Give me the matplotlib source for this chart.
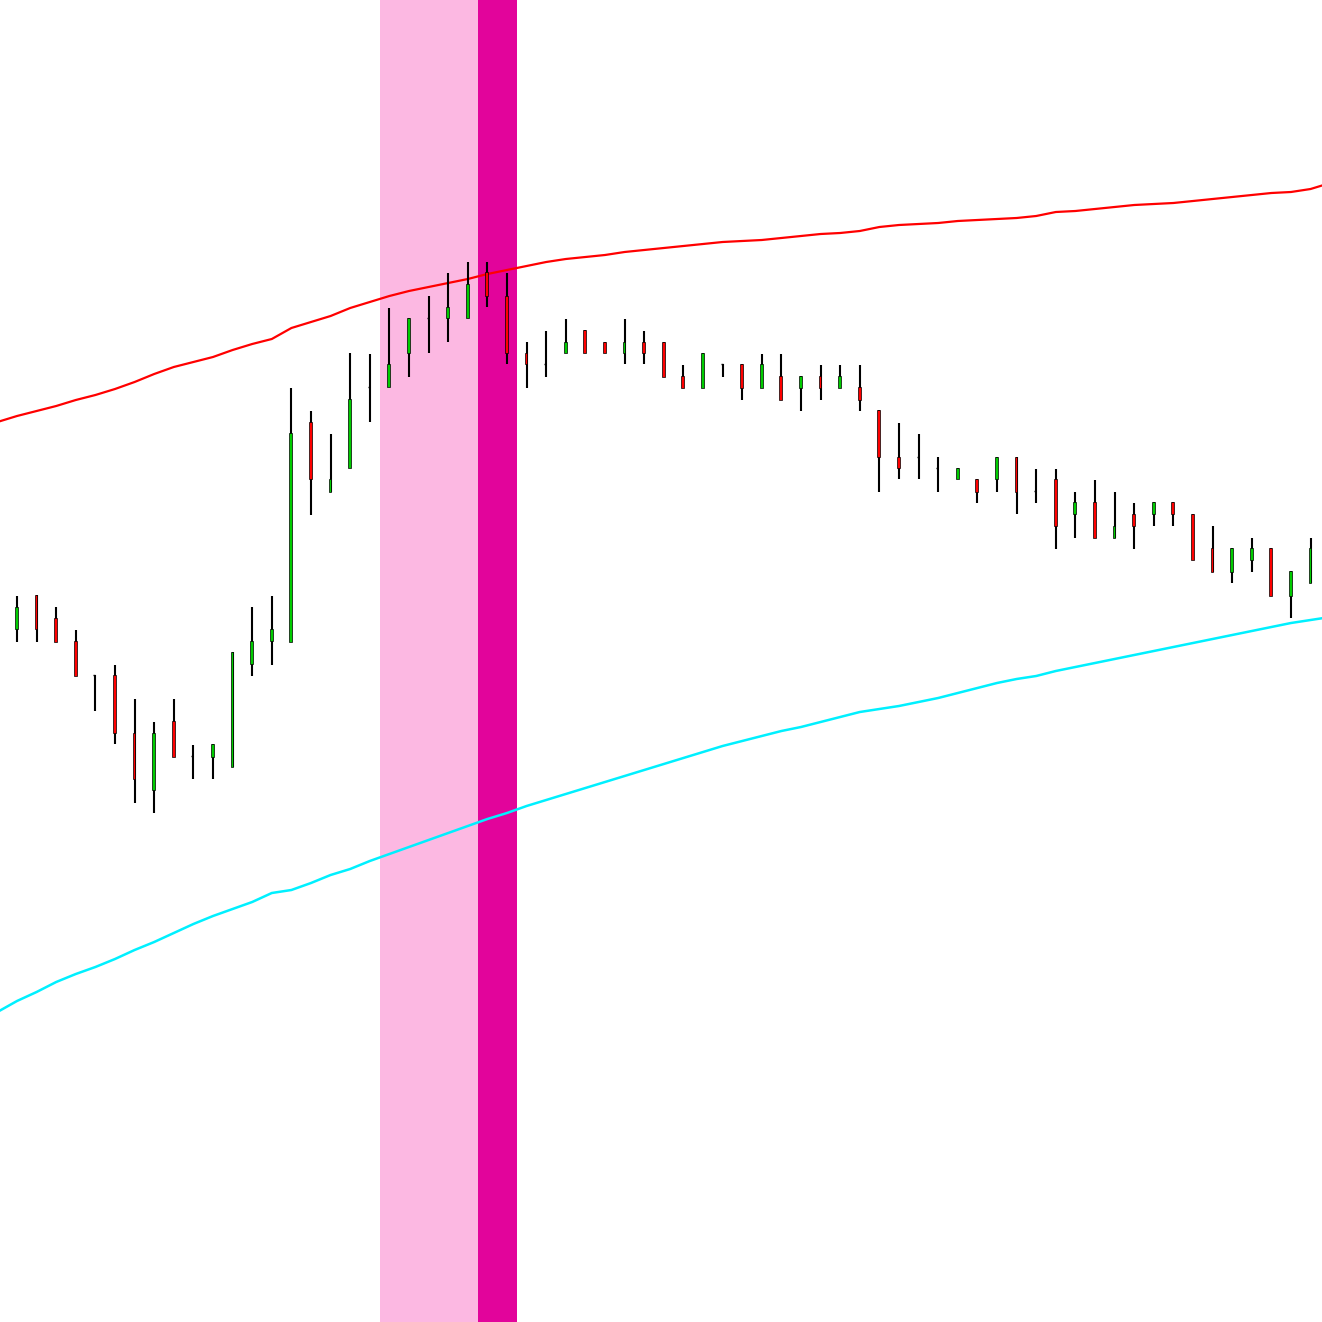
import numpy as np
import matplotlib
matplotlib.use("Agg")
import matplotlib.pyplot as plt

# OHLC per bar (price units)
opens = [693, 727, 704, 681, 647, 647, 589, 532, 601, 566, 565, 555, 658, 681, 680, 900, 830, 854, 935, 935,
         969, 1004, 1004, 1004, 1050, 1026, 969, 958, 969, 992, 980, 969, 980, 980, 946, 934, 958, 958, 934, 946,
         934, 946, 934, 935, 912, 865, 865, 854, 843, 843, 843, 865, 831, 843, 808, 820, 784, 808, 808, 820,
         808, 774, 750, 762, 774, 726, 739]
highs = [726, 727, 715, 692, 647, 657, 623, 600, 623, 577, 578, 670, 715, 726, 934, 911, 888, 969, 968, 1014,
         1004, 1026, 1049, 1060, 1060, 1049, 980, 991, 1003, 992, 980, 1003, 991, 980, 957, 969, 958, 958, 968, 968,
         946, 957, 957, 957, 912, 899, 888, 865, 854, 843, 865, 865, 853, 853, 830, 842, 830, 819, 820, 820,
         808, 796, 774, 784, 774, 751, 784]
lows = [680, 680, 680, 646, 611, 578, 519, 509, 565, 543, 543, 555, 646, 657, 680, 807, 830, 854, 900, 935,
        945, 969, 980, 1004, 1015, 958, 934, 945, 969, 969, 969, 958, 958, 945, 934, 934, 945, 922, 934, 922,
        911, 922, 934, 911, 830, 843, 843, 830, 843, 819, 830, 808, 819, 773, 784, 784, 784, 773, 796, 796,
        762, 750, 739, 750, 726, 704, 739]
closes = [715, 693, 680, 646, 647, 589, 543, 589, 565, 566, 578, 670, 681, 693, 889, 843, 843, 923, 935, 958,
          1004, 1004, 1015, 1038, 1026, 969, 958, 958, 980, 969, 969, 980, 969, 945, 934, 969, 958, 934, 958, 922,
          946, 934, 946, 922, 865, 854, 865, 854, 854, 830, 865, 830, 831, 796, 820, 784, 796, 796, 820, 808,
          762, 750, 774, 774, 726, 751, 774]

# envelope lines, one value per bar from one bar before the first to one after the last
upper_band = [900, 906, 911, 916, 922, 927, 933, 940, 948, 955, 960, 965, 972, 978, 983, 994, 1000, 1006, 1014,
              1020, 1026, 1031, 1035, 1039, 1043, 1048, 1052, 1056, 1060, 1063, 1065, 1067, 1070, 1072, 1074,
              1076, 1078, 1080, 1081, 1082, 1084, 1086, 1088, 1089, 1091, 1095, 1097, 1098, 1099, 1101, 1102,
              1103, 1104, 1106, 1110, 1111, 1113, 1115, 1117, 1118, 1119, 1121, 1123, 1125, 1127, 1129, 1130,
              1133, 1139]
lower_band = [310, 321, 330, 340, 348, 355, 363, 372, 380, 389, 398, 406, 413, 420, 429, 432, 439, 447, 453,
              461, 468, 475, 482, 489, 496, 503, 509, 516, 522, 528, 534, 540, 546, 552, 558, 564, 570, 576,
              581, 586, 591, 595, 600, 605, 610, 613, 616, 620, 624, 629, 634, 639, 643, 646, 651, 655, 659,
              663, 667, 671, 675, 679, 683, 687, 691, 695, 699, 702, 705]

# highlighted bar ranges (first bar, last bar)
light_zone = (19, 23)
dark_zone = (24, 25)

n = len(opens)
x = np.arange(n)
x_band = np.arange(-1, n + 1)

fig = plt.figure(figsize=(13.22, 13.22), dpi=100)
ax = fig.add_axes([0, 0, 1, 1])

ax.axvspan(light_zone[0] - 0.5, light_zone[1] + 0.5, color='#fcb8e2', lw=0, zorder=0)
ax.axvspan(dark_zone[0] - 0.5, dark_zone[1] + 0.5, color='#e2049b', lw=0, zorder=0)

ax.plot(x_band, upper_band, color='#ff0000', lw=1.6, zorder=2)
ax.plot(x_band, lower_band, color='#00f0ff', lw=1.8, zorder=2)

body_w = 0.15
for i in range(n):
    o, h, l, c = opens[i], highs[i], lows[i], closes[i]
    ax.vlines(i, l, h, color='black', lw=1.5, zorder=3)
    if o == c:
        ax.hlines(o, i - 0.1, i, color='black', lw=1.0, zorder=4)
        continue
    col = '#00cc00' if c > o else '#ff0000'
    ax.bar(i - 0.03, abs(c - o), bottom=min(o, c), width=body_w, color=col,
           edgecolor='black', linewidth=0.5, zorder=4)

ax.set_xlim(-17 / 19.6, (1322 - 17) / 19.6)
ax.set_ylim(0, 1322)
ax.axis('off')

fig.savefig('out.png', dpi=100, facecolor='white')
plt.close(fig)
